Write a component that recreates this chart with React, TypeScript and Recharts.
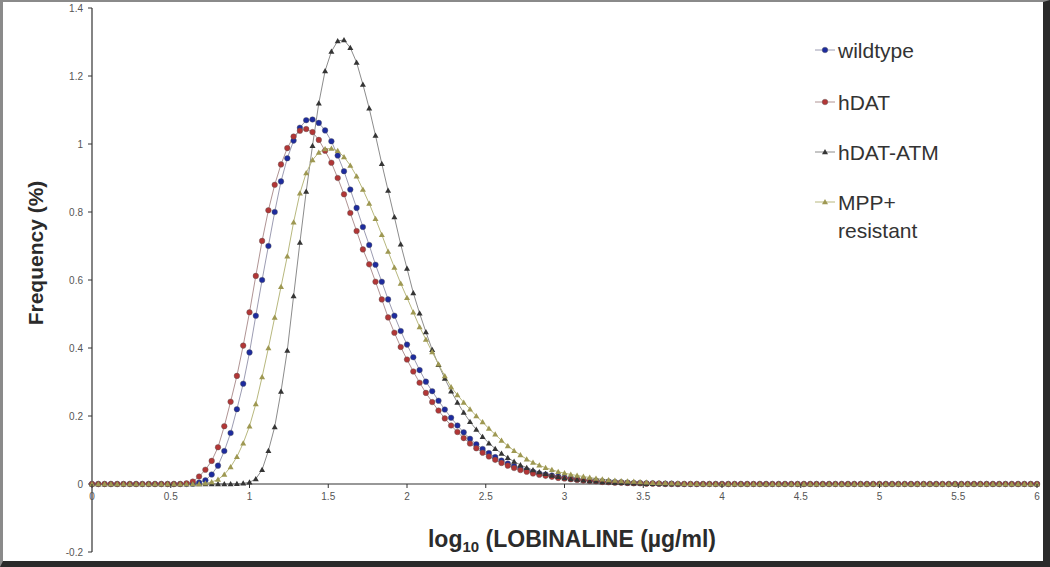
import React from 'react';
import { LineChart, Line, XAxis, YAxis, ReferenceLine, Legend } from 'recharts';

// x runs 0..6 in steps of 0.04 (151 points), one row of 10 values = 0.4 on the x axis
const X_STEP = 0.04;

const WILDTYPE = [
  0, 0, 0, 0, 0, 0, 0, 0, 0, 0,
  0, 0, 0, 0, 0, 0, 0.001, 0.004, 0.011, 0.028,
  0.054, 0.097, 0.15, 0.22, 0.295, 0.387, 0.495, 0.6, 0.7, 0.8,
  0.89, 0.958, 1.01, 1.048, 1.07, 1.072, 1.062, 1.04, 1.008, 0.966,
  0.92, 0.866, 0.812, 0.756, 0.703, 0.645, 0.595, 0.543, 0.495, 0.45,
  0.41, 0.373, 0.335, 0.301, 0.273, 0.245, 0.219, 0.195, 0.172, 0.152,
  0.133, 0.117, 0.103, 0.091, 0.079, 0.069, 0.06, 0.053, 0.047, 0.041,
  0.036, 0.031, 0.028, 0.025, 0.022, 0.019, 0.017, 0.015, 0.013, 0.011,
  0.01, 0.008, 0.007, 0.006, 0.005, 0.004, 0.003, 0.003, 0.002, 0.002,
  0.001, 0.001, 0.001, 0, 0, 0, 0, 0, 0, 0,
  0, 0, 0, 0, 0, 0, 0, 0, 0, 0,
  0, 0, 0, 0, 0, 0, 0, 0, 0, 0,
  0, 0, 0, 0, 0, 0, 0, 0, 0, 0,
  0, 0, 0, 0, 0, 0, 0, 0, 0, 0,
  0, 0, 0, 0, 0, 0, 0, 0, 0, 0,
  0,
];

const HDAT = [
  0, 0, 0, 0, 0, 0, 0, 0, 0, 0,
  0, 0, 0, 0, 0, 0.002, 0.007, 0.022, 0.042, 0.068,
  0.108, 0.17, 0.242, 0.318, 0.407, 0.505, 0.612, 0.715, 0.805, 0.88,
  0.94, 0.988, 1.022, 1.039, 1.044, 1.035, 1.012, 0.98, 0.945, 0.9,
  0.852, 0.797, 0.744, 0.69, 0.646, 0.595, 0.543, 0.49, 0.445, 0.403,
  0.366, 0.331, 0.298, 0.268, 0.241, 0.216, 0.193, 0.172, 0.153, 0.135,
  0.119, 0.105, 0.092, 0.081, 0.071, 0.062, 0.054, 0.047, 0.041, 0.036,
  0.031, 0.027, 0.024, 0.021, 0.018, 0.016, 0.014, 0.012, 0.01, 0.009,
  0.008, 0.006, 0.005, 0.004, 0.004, 0.003, 0.002, 0.002, 0.001, 0.001,
  0.001, 0, 0, 0, 0, 0, 0, 0, 0, 0,
  0, 0, 0, 0, 0, 0, 0, 0, 0, 0,
  0, 0, 0, 0, 0, 0, 0, 0, 0, 0,
  0, 0, 0, 0, 0, 0, 0, 0, 0, 0,
  0, 0, 0, 0, 0, 0, 0, 0, 0, 0,
  0, 0, 0, 0, 0, 0, 0, 0, 0, 0,
  0,
];

const HDAT_ATM = [
  0, 0, 0, 0, 0, 0, 0, 0, 0, 0,
  0, 0, 0, 0, 0, 0, 0, 0, 0, 0,
  0, 0, 0, 0.001, 0.002, 0.005, 0.015, 0.042, 0.098, 0.168,
  0.272, 0.393, 0.553, 0.71, 0.86, 0.995, 1.12, 1.215, 1.272, 1.303,
  1.306, 1.283, 1.24, 1.175, 1.105, 1.025, 0.942, 0.863, 0.785, 0.705,
  0.634, 0.562, 0.502, 0.447, 0.395, 0.351, 0.31, 0.273, 0.24, 0.21,
  0.183, 0.16, 0.139, 0.12, 0.104, 0.09, 0.077, 0.066, 0.056, 0.048,
  0.041, 0.035, 0.03, 0.025, 0.021, 0.018, 0.015, 0.013, 0.011, 0.009,
  0.008, 0.006, 0.005, 0.004, 0.004, 0.003, 0.002, 0.002, 0.001, 0.001,
  0.001, 0, 0, 0, 0, 0, 0, 0, 0, 0,
  0, 0, 0, 0, 0, 0, 0, 0, 0, 0,
  0, 0, 0, 0, 0, 0, 0, 0, 0, 0,
  0, 0, 0, 0, 0, 0, 0, 0, 0, 0,
  0, 0, 0, 0, 0, 0, 0, 0, 0, 0,
  0, 0, 0, 0, 0, 0, 0, 0, 0, 0,
  0,
];

const MPP_RESISTANT = [
  0, 0, 0, 0, 0, 0, 0, 0, 0, 0,
  0, 0, 0, 0, 0, 0, 0, 0, 0.002, 0.006,
  0.013, 0.028, 0.05, 0.08, 0.12, 0.17, 0.235, 0.315, 0.4, 0.49,
  0.58, 0.67, 0.77, 0.855, 0.915, 0.953, 0.975, 0.985, 0.987, 0.98,
  0.962, 0.937, 0.905, 0.866, 0.825, 0.78, 0.733, 0.684, 0.637, 0.59,
  0.548, 0.505, 0.462, 0.425, 0.388, 0.352, 0.318, 0.285, 0.262, 0.24,
  0.22, 0.2, 0.182, 0.163, 0.146, 0.128, 0.112, 0.098, 0.085, 0.073,
  0.063, 0.055, 0.048, 0.042, 0.036, 0.032, 0.028, 0.025, 0.022, 0.019,
  0.016, 0.014, 0.012, 0.01, 0.009, 0.008, 0.007, 0.006, 0.005, 0.004,
  0.003, 0.003, 0.002, 0.002, 0.001, 0.001, 0.001, 0, 0, 0,
  0, 0, 0, 0, 0, 0, 0, 0, 0, 0,
  0, 0, 0, 0, 0, 0, 0, 0, 0, 0,
  0, 0, 0, 0, 0, 0, 0, 0, 0, 0,
  0, 0, 0, 0, 0, 0, 0, 0, 0, 0,
  0, 0, 0, 0, 0, 0, 0, 0, 0, 0,
  0,
];

const X_TICKS = [0, 0.5, 1, 1.5, 2, 2.5, 3, 3.5, 4, 4.5, 5, 5.5, 6];
const Y_TICKS = [-0.2, 0, 0.2, 0.4, 0.6, 0.8, 1, 1.2, 1.4];

const data = WILDTYPE.map((v, i) => ({
  x: +(i * X_STEP).toFixed(2),
  wildtype: v,
  hdat: HDAT[i],
  hdatAtm: HDAT_ATM[i],
  mpp: MPP_RESISTANT[i],
}));

const SERIES = [
  { key: 'wildtype', label: ['wildtype'], stroke: '#9c9cb2', fill: '#1d2b9e', shape: 'circle' },
  { key: 'hdat', label: ['hDAT'], stroke: '#b09494', fill: '#b23636', shape: 'circle' },
  { key: 'hdatAtm', label: ['hDAT-ATM'], stroke: '#8c8c8c', fill: '#353535', shape: 'triangle' },
  { key: 'mpp', label: ['MPP+', 'resistant'], stroke: '#b8b87e', fill: '#9e9852', shape: 'triangle' },
];

const W = 1050;
const H = 567;
const MARGIN = { top: 8, right: 13, left: 0, bottom: 0 };
const Y_AXIS_W = 92;
const X_AXIS_H = 15;
const PLOT_H = H - MARGIN.top - MARGIN.bottom - X_AXIS_H;
// distance from the plot bottom up to y = 0, where the x axis sits
const ZERO_SHIFT = (PLOT_H * (0 - -0.2)) / (1.4 - -0.2);

const FONT = '"Liberation Sans", Arial, sans-serif';

const Marker = ({ shape, fill, cx, cy, size = 1 }: any) => {
  if (cx == null || cy == null) return null;
  if (shape === 'circle') {
    return <circle cx={cx} cy={cy} r={2.8 * size} fill={fill} stroke="#555" strokeWidth={0.4} />;
  }
  const s = 3 * size;
  return (
    <polygon
      points={`${cx},${cy - s} ${cx - s},${cy + s * 0.75} ${cx + s},${cy + s * 0.75}`}
      fill={fill}
    />
  );
};

const makeDot = (shape: string, fill: string) => (props: any) => (
  <Marker key={`${shape}-${fill}-${props.index}`} shape={shape} fill={fill} cx={props.cx} cy={props.cy} />
);

const XTick = (props: any) => {
  const { x, y, payload } = props;
  const y0 = y - ZERO_SHIFT;
  return (
    <g>
      <line x1={x} y1={y0} x2={x} y2={y0 + 4} stroke="#333" strokeWidth={1} />
      <text x={x} y={y0 + 16} textAnchor="middle" fontSize={10} fill="#555" fontFamily={FONT}>
        {payload.value}
      </text>
    </g>
  );
};

const YTitle = () => (
  <text
    x={35}
    y={253}
    transform="rotate(-90 35 253)"
    textAnchor="middle"
    dominantBaseline="central"
    fontSize={21}
    fontWeight="bold"
    fill="#2b2b2b"
    fontFamily={FONT}
  >
    Frequency (%)
  </text>
);

const XTitle = () => (
  <text x={572} y={547} textAnchor="middle" fontSize={23} fontWeight="bold" fill="#2b2b2b" fontFamily={FONT}>
    log
    <tspan fontSize={15} dy={5}>10</tspan>
    <tspan dy={-5}> (LOBINALINE (µg/ml)</tspan>
  </text>
);

const LegendBox = () => {
  const rows = [20, 72, 122, 172];
  return (
    <svg width={200} height={220} style={{ overflow: 'visible' }}>
      {SERIES.map((s, i) => (
        <g key={s.key}>
          <line x1={10} y1={rows[i]} x2={30} y2={rows[i]} stroke={s.stroke} strokeWidth={1} />
          <Marker shape={s.shape} fill={s.fill} cx={20} cy={rows[i]} />
          {s.label.map((t, j) => (
            <text
              key={t}
              x={33}
              y={rows[i] + j * 28}
              dominantBaseline="central"
              fontSize={21}
              fill="#333"
              fontFamily={FONT}
            >
              {t}
            </text>
          ))}
        </g>
      ))}
    </svg>
  );
};

const App: React.FC = () => {
  return (
    <div style={{ position: 'absolute', left: 0, top: 0, width: W, height: H, background: '#fff' }}>
      <LineChart width={W} height={H} data={data} margin={MARGIN}>
        <XAxis
          dataKey="x"
          type="number"
          domain={[0, 6]}
          ticks={X_TICKS}
          interval={0}
          height={X_AXIS_H}
          axisLine={false}
          tickLine={false}
          tickSize={0}
          tickMargin={0}
          tick={<XTick />}
          label={<XTitle />}
        />
        <YAxis
          type="number"
          domain={[-0.2, 1.4]}
          ticks={Y_TICKS}
          interval={0}
          width={Y_AXIS_W}
          axisLine={{ stroke: '#333', strokeWidth: 1.2 }}
          tickLine={{ stroke: '#333' }}
          tickSize={4}
          tickMargin={5}
          tick={{ fontSize: 10, fill: '#555', fontFamily: FONT }}
          label={<YTitle />}
        />
        <ReferenceLine y={0} stroke="#333" strokeWidth={1.2} />
        {SERIES.map((s) => (
          <Line
            key={s.key}
            dataKey={s.key}
            type="linear"
            stroke={s.stroke}
            strokeWidth={1}
            dot={makeDot(s.shape, s.fill)}
            activeDot={false}
            isAnimationActive={false}
          />
        ))}
        <Legend
          layout="vertical"
          align="center"
          verticalAlign="middle"
          content={<LegendBox />}
          wrapperStyle={{ left: 805, top: 30, width: 200, height: 220 }}
        />
      </LineChart>
      <div
        style={{
          position: 'absolute',
          left: 0,
          top: 0,
          width: W,
          height: H,
          boxSizing: 'border-box',
          borderTop: '2px solid #8a8a8a',
          borderLeft: '3px solid #8a8a8a',
          borderRight: '7px solid #2a2a2a',
          borderBottom: '6px solid #2a2a2a',
          pointerEvents: 'none',
        }}
      />
    </div>
  );
};

export default App;
